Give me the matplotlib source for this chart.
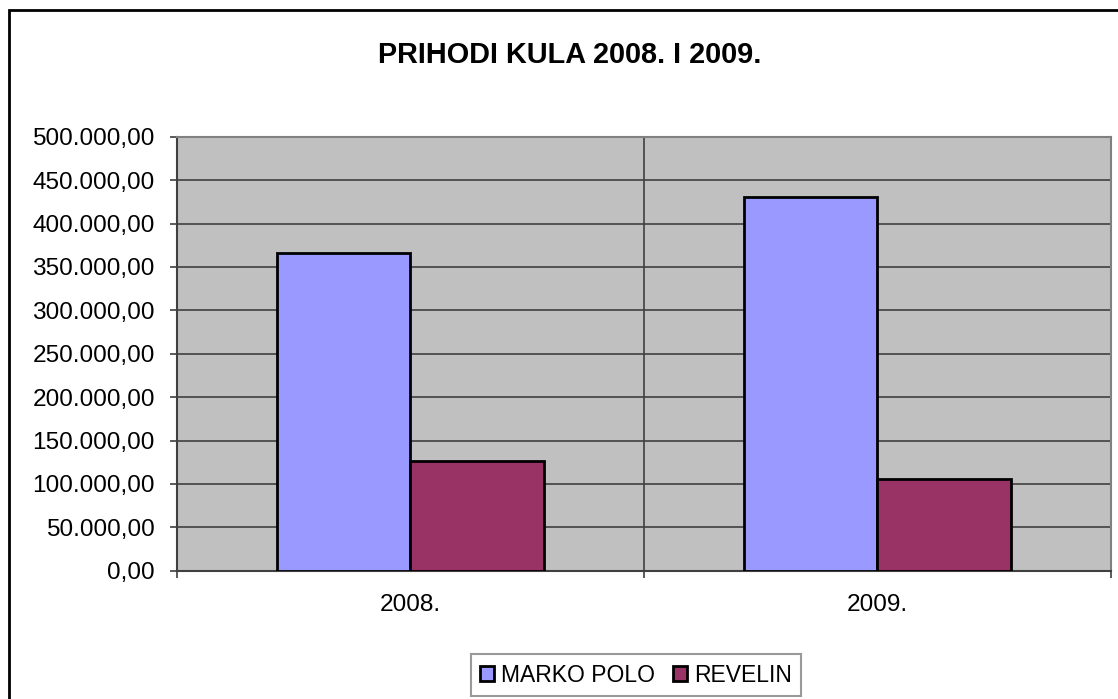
import numpy as np
import matplotlib
matplotlib.use("Agg")
import matplotlib.pyplot as plt
from matplotlib.patches import Rectangle
from matplotlib.ticker import FuncFormatter, FixedLocator

plt.rcParams['font.family'] = ['Liberation Sans', 'DejaVu Sans']

godine = ['2008.', '2009.']
marko_polo = [365700, 430900]
revelin = [126400, 105600]
naslov = 'PRIHODI KULA 2008. I 2009.'


def hr_format(v, pos):
    s = '{:,.2f}'.format(v)
    return s.replace(',', 'X').replace('.', ',').replace('X', '.')


fig = plt.figure(figsize=(11.18, 6.99), dpi=100)
ax = fig.add_axes([177 / 1118, 1 - 570.7 / 699, (1110.7 - 177) / 1118, (570.7 - 136.7) / 699])
ax.set_facecolor('#C0C0C0')

x = np.arange(len(godine))
w = 1 / 3.5
ax.bar(x - w / 2, marko_polo, w, color='#9999FF', edgecolor='black', linewidth=2, label='MARKO POLO', zorder=3)
ax.bar(x + w / 2, revelin, w, color='#993366', edgecolor='black', linewidth=2, label='REVELIN', zorder=3)

ax.set_xlim(-0.5, 1.5)
ax.set_ylim(0, 500000)
ax.set_yticks(np.arange(0, 500001, 50000))
ax.yaxis.set_major_formatter(FuncFormatter(hr_format))
ax.set_xticks(x)
ax.set_xticklabels(godine)
ax.xaxis.set_minor_locator(FixedLocator([-0.5, 0.5, 1.5]))

# mreza
ax.grid(axis='y', which='major', color='#404040', linewidth=1.2, zorder=1)
ax.grid(axis='x', which='minor', color='#404040', linewidth=1.2, zorder=1)
ax.set_axisbelow(True)

ax.tick_params(axis='y', length=5, width=1.2, color='#404040', pad=11, labelsize=17.6)
ax.tick_params(axis='x', which='major', length=0, pad=16.5, labelsize=17.6)
ax.tick_params(axis='x', which='minor', length=5, width=1.2, color='#404040')

for side in ['left', 'bottom']:
    ax.spines[side].set_color('#404040')
    ax.spines[side].set_linewidth(1.5)
for side in ['right', 'top']:
    ax.spines[side].set_color('#808080')
    ax.spines[side].set_linewidth(1.5)

fig.text(0.51, 1 - 63 / 699, naslov, ha='center', va='baseline', fontsize=20.8, fontweight='bold')

leg = fig.legend(loc='center', bbox_to_anchor=(636 / 1118, 1 - 675 / 699), ncol=2, fontsize=16.5,
                 frameon=True, fancybox=False, edgecolor='#808080', handlelength=0.6, handleheight=0.6,
                 handletextpad=0.3, columnspacing=0.8, borderpad=0.4, borderaxespad=0)
leg.get_frame().set_linewidth(1.5)

# okvir oko grafa
fig.patches.append(Rectangle((8.5 / 1118, -0.1), 1.2, 1.1 - 10.5 / 699,
                             transform=fig.transFigure, fill=False, edgecolor='black', linewidth=2))

fig.savefig('out.png', dpi=100)
